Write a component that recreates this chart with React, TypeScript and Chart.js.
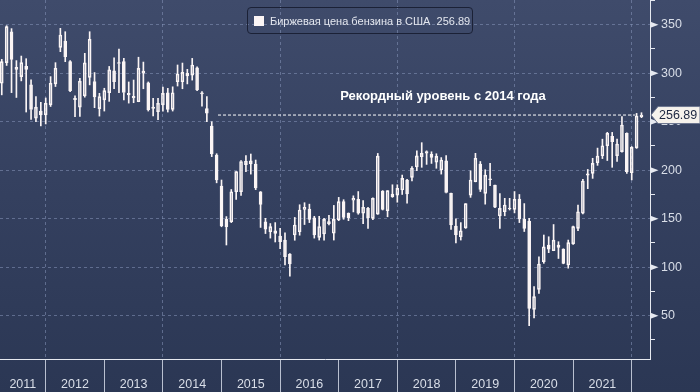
import React, { useEffect, useRef } from 'react';
import { Chart, registerables } from 'chart.js';

Chart.register(...registerables);

// ---------- DATA ----------
const SERIES_NAME = 'Биржевая цена бензина в США';
const LAST_PRICE = 256.89;
const ANNOTATION = 'Рекордный уровень с 2014 года';

const MONTHS = [
  '2011-03', '2011-04', '2011-05', '2011-06', '2011-07', '2011-08', '2011-09', '2011-10', '2011-11', '2011-12',
  '2012-01', '2012-02', '2012-03', '2012-04', '2012-05', '2012-06', '2012-07', '2012-08', '2012-09', '2012-10', '2012-11', '2012-12',
  '2013-01', '2013-02', '2013-03', '2013-04', '2013-05', '2013-06', '2013-07', '2013-08', '2013-09', '2013-10', '2013-11', '2013-12',
  '2014-01', '2014-02', '2014-03', '2014-04', '2014-05', '2014-06', '2014-07', '2014-08', '2014-09', '2014-10', '2014-11', '2014-12',
  '2015-01', '2015-02', '2015-03', '2015-04', '2015-05', '2015-06', '2015-07', '2015-08', '2015-09', '2015-10', '2015-11', '2015-12',
  '2016-01', '2016-02', '2016-03', '2016-04', '2016-05', '2016-06', '2016-07', '2016-08', '2016-09', '2016-10', '2016-11', '2016-12',
  '2017-01', '2017-02', '2017-03', '2017-04', '2017-05', '2017-06', '2017-07', '2017-08', '2017-09', '2017-10', '2017-11', '2017-12',
  '2018-01', '2018-02', '2018-03', '2018-04', '2018-05', '2018-06', '2018-07', '2018-08', '2018-09', '2018-10', '2018-11', '2018-12',
  '2019-01', '2019-02', '2019-03', '2019-04', '2019-05', '2019-06', '2019-07', '2019-08', '2019-09', '2019-10', '2019-11', '2019-12',
  '2020-01', '2020-02', '2020-03', '2020-04', '2020-05', '2020-06', '2020-07', '2020-08', '2020-09', '2020-10', '2020-11', '2020-12',
  '2021-01', '2021-02', '2021-03', '2021-04', '2021-05', '2021-06', '2021-07', '2021-08', '2021-09', '2021-10', '2021-11', '2021-12',
  '2022-01', '2022-02',
];

const OPEN = [
  289.7, 310.9, 342.8, 306.0, 296.5, 307.0, 288.0, 253.7, 261.0, 257.1,
  267.4, 289.0, 326.7, 333.2, 311.9, 274.0, 265.0, 276.7, 295.8, 291.4, 263.5, 272.5,
  280.0, 302.6, 311.0, 311.9, 279.3, 276.2, 270.6, 300.0, 290.2, 265.0, 260.3, 267.3,
  279.9, 262.8, 291.2, 291.2, 297.1, 298.1, 305.5, 279.9, 263.5, 245.6, 215.7, 183.7,
  149.4, 146.9, 177.8, 177.8, 205.8, 206.5, 206.2, 177.8, 146.9, 136.6, 137.6, 132.2,
  128.0, 113.6, 133.2, 136.6, 159.7, 160.0, 151.0, 130.8, 134.2, 147.0, 135.0, 148.7,
  167.6, 155.6, 169.0, 170.1, 155.6, 160.7, 150.4, 154.8, 178.6, 158.2, 175.5, 174.4,
  179.6, 189.9, 192.7, 203.3, 213.9, 219.2, 216.4, 208.3, 200.2, 209.8, 176.2, 142.5,
  131.4, 140.6, 174.4, 188.1, 206.4, 176.2, 191.0, 184.7, 152.8, 157.2, 160.0, 159.7,
  170.3, 149.7, 147.6, 56.6, 77.2, 105.7, 122.9, 117.0, 122.9, 118.8, 102.3, 124.0,
  140.1, 155.6, 196.3, 196.8, 207.7, 214.9, 225.2, 235.0, 214.9, 219.1, 238.0, 197.4,
  223.0, 255.2,
];

const HIGH = [
  314.3, 349.0, 346.0, 313.0, 317.7, 315.0, 293.1, 276.0, 270.0, 274.5,
  296.5, 310.9, 346.3, 342.8, 313.0, 276.7, 294.7, 320.5, 342.8, 300.7, 279.3, 284.5,
  307.0, 316.0, 325.0, 315.3, 291.0, 293.0, 316.5, 311.5, 291.0, 274.0, 274.0, 285.8,
  284.4, 286.0, 308.5, 310.5, 304.0, 315.3, 306.5, 281.0, 275.8, 250.0, 217.0, 189.9,
  152.2, 180.1, 198.5, 210.0, 215.0, 216.7, 210.5, 178.0, 150.4, 145.0, 146.0, 140.0,
  135.4, 114.0, 151.3, 164.4, 166.5, 165.0, 152.5, 152.5, 150.4, 153.5, 163.7, 172.0,
  169.6, 156.0, 173.6, 178.0, 168.6, 161.8, 171.5, 217.3, 179.0, 178.9, 185.0, 185.0,
  195.0, 190.5, 203.7, 220.0, 228.4, 220.0, 219.0, 217.0, 213.0, 215.0, 176.5, 150.0,
  146.0, 165.6, 199.4, 217.4, 209.0, 200.5, 207.0, 184.7, 176.0, 171.0, 171.0, 178.0,
  175.0, 165.6, 150.4, 79.9, 110.8, 133.2, 131.4, 144.0, 126.3, 119.0, 128.0, 142.5,
  164.0, 190.6, 200.8, 212.3, 222.8, 232.0, 239.1, 239.0, 232.0, 255.2, 238.5, 224.4,
  258.6, 259.3,
];

const LOW = [
  277.7, 308.0, 280.0, 275.0, 292.1, 260.0, 252.3, 250.0, 245.7, 247.7,
  265.7, 286.3, 322.2, 311.9, 281.0, 255.3, 255.5, 275.3, 288.0, 264.5, 255.8, 261.0,
  271.0, 284.2, 280.0, 272.5, 269.2, 269.6, 270.6, 284.0, 261.0, 256.0, 252.0, 261.0,
  260.0, 261.0, 286.8, 284.0, 289.0, 292.9, 282.0, 266.0, 250.0, 214.0, 187.0, 141.7,
  122.9, 146.0, 170.0, 174.0, 198.5, 196.0, 180.0, 141.0, 134.7, 130.0, 126.0, 119.0,
  102.3, 90.7, 127.8, 133.0, 144.0, 146.0, 130.0, 128.0, 128.0, 143.5, 128.0, 148.0,
  149.4, 148.0, 157.0, 154.6, 145.0, 140.0, 149.0, 154.5, 159.0, 152.0, 172.0, 167.0,
  175.0, 166.0, 189.0, 199.6, 203.0, 206.0, 207.0, 202.0, 196.0, 176.5, 139.0, 125.0,
  128.0, 140.0, 172.0, 188.0, 178.0, 165.0, 184.0, 161.5, 140.0, 153.0, 159.0, 156.0,
  146.0, 136.8, 39.6, 47.7, 73.0, 104.0, 115.0, 117.0, 109.0, 103.5, 99.0, 123.5,
  137.6, 155.0, 181.0, 191.6, 205.0, 212.0, 210.0, 203.0, 209.0, 218.5, 196.7, 190.0,
  222.5, 254.2,
];

const CLOSE = [
  311.9, 348.0, 314.3, 304.0, 310.9, 304.0, 262.6, 265.0, 257.0, 269.0,
  289.7, 305.1, 339.4, 317.0, 282.1, 272.8, 291.8, 310.7, 335.0, 275.5, 275.9, 282.0,
  303.5, 291.2, 310.0, 280.1, 277.6, 274.5, 305.0, 302.3, 262.4, 263.8, 269.0, 279.3,
  262.8, 279.9, 299.2, 300.9, 299.9, 308.5, 282.7, 278.6, 258.7, 216.7, 189.9, 142.5,
  141.8, 177.8, 198.5, 209.0, 209.2, 209.7, 181.8, 164.8, 139.1, 141.8, 134.9, 126.3,
  110.8, 103.3, 143.5, 159.0, 161.7, 149.4, 133.2, 141.8, 149.4, 145.0, 149.4, 167.6,
  151.4, 151.0, 171.0, 155.6, 161.8, 151.0, 171.0, 214.6, 159.7, 178.9, 172.7, 181.3,
  191.6, 175.5, 202.0, 214.8, 217.4, 217.5, 213.3, 214.3, 210.5, 177.0, 143.5, 133.2,
  137.6, 165.6, 189.9, 212.3, 180.3, 195.0, 190.2, 161.8, 160.7, 164.1, 161.0, 170.1,
  149.7, 140.1, 57.6, 69.6, 103.3, 121.1, 118.5, 128.0, 120.5, 104.0, 125.3, 141.8,
  157.2, 188.9, 195.0, 207.1, 214.6, 225.2, 238.0, 229.5, 227.0, 246.6, 198.4, 223.6,
  255.9, 256.89,
];

const YEAR_STARTS = [2011, 2012, 2013, 2014, 2015, 2016, 2017, 2018, 2019, 2020, 2021, 2022];
const YEAR_LABELS = ['2011', '2012', '2013', '2014', '2015', '2016', '2017', '2018', '2019', '2020', '2021'];
const Y_TICKS = [25, 50, 75, 100, 125, 150, 175, 200, 225, 250, 275, 300, 325, 350, 375];
const Y_LABELED = [50, 100, 150, 200, 250, 300, 350];

// record-level reference line & annotation anchor (data coordinates)
const RECORD_LINE_X = [2014.94, 2022.06];
const ANNOT_POS = { x: 2018.78, y: 276.5 };

// ---------- STYLE ----------
const FONT = '"Liberation Sans", Arial, sans-serif';
const WHITE = '#fbf5f5';
const GRID = 'rgba(135,150,185,0.55)';
const AXIS = '#e6e9f0';
const LABEL = '#d9dee8';

const monthToX = (m: string) => {
  const [y, mo] = m.split('-').map(Number);
  return y + mo / 12; // candle plotted at month end
};

const bodyData = MONTHS.map((m, i) => ({ x: monthToX(m), y: [OPEN[i], CLOSE[i]] }));
const wickData = MONTHS.flatMap((m, i) => {
  const top = Math.max(OPEN[i], CLOSE[i]);
  const bot = Math.min(OPEN[i], CLOSE[i]);
  return [
    { x: monthToX(m), y: [top, HIGH[i]] },
    { x: monthToX(m), y: [LOW[i], bot] },
  ];
});

const overlayPlugin = {
  id: 'overlay',
  afterDraw(chart: any) {
    const { ctx } = chart;
    const x = chart.scales.x;
    const y = chart.scales.y;
    ctx.save();
    // annotation
    ctx.font = `bold 13px ${FONT}`;
    ctx.fillStyle = '#ffffff';
    ctx.textAlign = 'center';
    ctx.textBaseline = 'middle';
    ctx.fillText(ANNOTATION, x.getPixelForValue(ANNOT_POS.x), y.getPixelForValue(ANNOT_POS.y));
    // major tick triangles
    ctx.fillStyle = AXIS;
    for (const v of Y_LABELED) {
      const py = y.getPixelForValue(v);
      const px = y.left + 0.5;
      ctx.beginPath();
      ctx.moveTo(px, py - 3);
      ctx.lineTo(px + 8, py);
      ctx.lineTo(px, py + 3);
      ctx.closePath();
      ctx.fill();
    }
    // last price tag
    const ty = y.getPixelForValue(LAST_PRICE);
    const lx = y.left + 1;
    ctx.beginPath();
    ctx.moveTo(lx, ty);
    ctx.lineTo(lx + 7, ty - 8.5);
    ctx.lineTo(chart.width, ty - 8.5);
    ctx.lineTo(chart.width, ty + 8.5);
    ctx.lineTo(lx + 7, ty + 8.5);
    ctx.closePath();
    ctx.fillStyle = '#f6f2ec';
    ctx.fill();
    ctx.strokeStyle = '#6d7690';
    ctx.lineWidth = 1;
    ctx.stroke();
    ctx.font = `12.5px ${FONT}`;
    ctx.fillStyle = '#1c2640';
    ctx.textAlign = 'left';
    ctx.textBaseline = 'middle';
    ctx.fillText(LAST_PRICE.toFixed(2), lx + 8, ty + 0.5);
    ctx.restore();
  },
};

export default function App() {
  const ref = useRef<HTMLCanvasElement>(null);

  useEffect(() => {
    const canvas = ref.current;
    if (!canvas) return;
    Chart.defaults.font.family = FONT;
    const chart = new Chart(canvas, {
      type: 'bar',
      data: {
        datasets: [
          {
            type: 'line',
            data: RECORD_LINE_X.map((vx) => ({ x: vx, y: LAST_PRICE })),
            borderColor: '#ffffff',
            borderWidth: 1,
            borderDash: [3, 2],
            pointRadius: 0,
            fill: false,
            order: 0,
          } as any,
          {
            data: wickData,
            backgroundColor: WHITE,
            borderWidth: 0,
            barThickness: 1,
            grouped: false,
            order: 2,
          } as any,
          {
            data: bodyData,
            backgroundColor: (c: any) =>
              c.raw && c.raw.y[1] >= c.raw.y[0] ? 'rgba(0,0,0,0)' : WHITE,
            borderColor: WHITE,
            borderWidth: 1,
            borderSkipped: false,
            barThickness: 3,
            grouped: false,
            order: 1,
          } as any,
        ],
      },
      options: {
        responsive: false,
        animation: false,
        devicePixelRatio: 1,
        events: [],
        layout: { padding: 0 },
        plugins: { legend: { display: false }, tooltip: { enabled: false } },
        scales: {
          x: {
            type: 'linear',
            position: 'bottom',
            min: 2011.22,
            max: 2022.312,
            offset: false,
            afterBuildTicks: (scale: any) => {
              const firstCenter = (scale.min + YEAR_STARTS[1]) / 2;
              scale.ticks = YEAR_STARTS.map((v, i) => ({ value: i === 0 ? firstCenter - 0.5 : v }));
            },
            afterFit: (scale: any) => {
              scale.height = 33;
              scale.paddingLeft = 0;
              scale.paddingRight = 0;
            },
            ticks: {
              autoSkip: false,
              maxRotation: 0,
              minRotation: 0,
              labelOffset: 29.3,
              padding: -15,
              color: LABEL,
              font: { size: 12.5, family: FONT },
              callback: (_v: any, i: number) => YEAR_LABELS[i] ?? '',
            },
            grid: {
              offset: false,
              display: true,
              drawOnChartArea: true,
              drawTicks: true,
              tickLength: 33,
              tickColor: '#b9c0d0',
              tickWidth: 1,
              lineWidth: 1,
              color: (c: any) => {
                const v = c.tick ? c.tick.value : 0;
                return Number.isInteger(v) && v % 2 === 0 ? GRID : 'rgba(0,0,0,0)';
              },
            },
            border: { display: true, color: AXIS, width: 1, dash: [3, 3] },
          },
          y: {
            type: 'linear',
            position: 'right',
            min: 5.36,
            max: 375.5,
            beginAtZero: false,
            afterBuildTicks: (scale: any) => {
              scale.ticks = Y_TICKS.map((v) => ({ value: v }));
            },
            afterFit: (scale: any) => {
              scale.width = 50;
              scale.paddingTop = 0;
              scale.paddingBottom = 0;
            },
            ticks: {
              padding: 6,
              color: LABEL,
              font: { size: 12.5, family: FONT },
              callback: (v: any) => (Y_LABELED.includes(v) ? String(v) : ''),
            },
            grid: {
              display: true,
              drawOnChartArea: true,
              drawTicks: true,
              tickLength: 5,
              tickWidth: 1,
              lineWidth: 1,
              color: (c: any) => (c.tick && Y_LABELED.includes(c.tick.value) ? GRID : 'rgba(0,0,0,0)'),
              tickColor: (c: any) => (c.tick && Y_LABELED.includes(c.tick.value) ? 'rgba(0,0,0,0)' : AXIS),
            },
            border: { display: true, color: AXIS, width: 1, dash: [3, 3] },
          },
        },
      } as any,
      plugins: [overlayPlugin],
    });
    return () => chart.destroy();
  }, []);

  return (
    <div
      style={{
        position: 'fixed',
        left: 0,
        top: 0,
        width: 700,
        height: 392,
        overflow: 'hidden',
        background: 'linear-gradient(to bottom, #3f4b6b 0%, #34405f 50%, #2b3754 100%)',
      }}
    >
      <canvas ref={ref} width={700} height={392} style={{ display: 'block', width: 700, height: 392 }} />
      <div
        style={{
          position: 'absolute',
          left: 247,
          top: 7,
          width: 226,
          height: 27,
          boxSizing: 'border-box',
          border: '1px solid #1b2136',
          borderRadius: 4,
          display: 'flex',
          alignItems: 'center',
          paddingLeft: 6,
          fontFamily: FONT,
          fontSize: 11,
          color: '#e4e7ef',
          whiteSpace: 'pre',
        }}
      >
        <span
          style={{ display: 'block', flex: '0 0 10px', width: 10, height: 10, background: WHITE, marginRight: 6 }}
        />
        <span>{`${SERIES_NAME}  ${LAST_PRICE.toFixed(2)}`}</span>
      </div>
    </div>
  );
}
